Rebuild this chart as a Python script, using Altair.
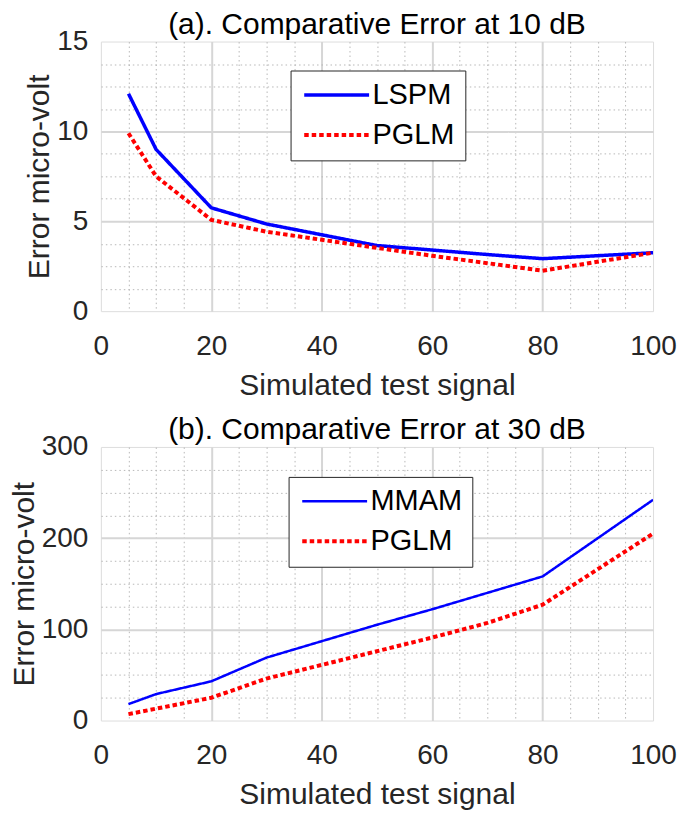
import altair as alt
import pandas as pd

FONT = "Liberation Sans"

# panel (a): error at 10 dB
signal_a = [5, 10, 20, 30, 40, 50, 60, 70, 80, 100]
lspm_a = [12.1, 9.0, 5.75, 4.85, 4.25, 3.65, 3.4, 3.15, 2.92, 3.25]
pglm_a = [9.9, 7.5, 5.08, 4.42, 3.97, 3.52, 3.08, 2.67, 2.25, 3.25]

# panel (b): error at 30 dB
signal_b = [5, 10, 20, 30, 40, 50, 60, 70, 80, 100]
mmam_b = [18, 29, 43, 69, 87, 105, 122, 140, 158, 242]
pglm_b = [7, 13, 25, 46, 61, 76, 91, 107, 127, 205]

x_ticks = list(range(0, 101, 5))
y_ticks_a = [i * 1.25 for i in range(13)]
y_ticks_b = list(range(0, 301, 25))

PLOT_W = 553


def long_table(x, series):
    rows = []
    for name, values in series.items():
        for xi, yi in zip(x, values):
            rows.append({"signal": xi, "error": yi, "method": name})
    return pd.DataFrame(rows)


def grid_axis(title, ticks, major, vmax, **kw):
    is_major = f"datum.value % {major} === 0"
    is_edge = f"datum.value === 0 || datum.value === {vmax}"
    return alt.Axis(
        title=title,
        values=ticks,
        labelExpr=f"{is_major} ? datum.label : ''",
        labelOverlap=False,
        labelFlush=False,
        labelFont=FONT,
        labelFontSize=28,
        labelColor="#262626",
        ticks=False,
        domain=False,
        grid=True,
        gridColor={"condition": {"test": is_major, "value": "#d6d6d6"}, "value": "#b8b8b8"},
        gridDash={"condition": {"test": is_major, "value": [1, 0]}, "value": [1.5, 3]},
        gridWidth={"condition": {"test": is_major, "value": 2}, "value": 1},
        gridOpacity={"condition": {"test": is_edge, "value": 0}, "value": 1},
        titleFont=FONT,
        titleFontSize=30,
        titleFontWeight="normal",
        titleColor="#262626",
        **kw,
    )


def panel(df, order, widths, title, y_ticks, y_major, y_max, height, legend_x, legend_y):
    legend = alt.Legend(
        title=None,
        orient="none",
        legendX=legend_x,
        legendY=legend_y,
        direction="vertical",
        symbolType="M-1,0H5",
        symbolSize=469,
        labelFont=FONT,
        labelFontSize=29,
        labelColor="black",
        labelOffset=43,
        padding=10,
        rowPadding=10,
        strokeColor="#262626",
        fillColor="white",
    )
    return alt.Chart(df).mark_line(clip=True, strokeCap="butt").encode(
        x=alt.X("signal:Q", scale=alt.Scale(domain=[0, 100], nice=False),
                axis=grid_axis("Simulated test signal", x_ticks, 20, 100,
                               labelPadding=21, titlePadding=10)),
        y=alt.Y("error:Q", scale=alt.Scale(domain=[0, y_max], nice=False),
                axis=grid_axis("Error micro-volt", y_ticks, y_major, y_max,
                               labelPadding=13, titlePadding=2)),
        color=alt.Color("method:N", scale=alt.Scale(domain=order, range=["#0000ff", "#ff0000"]),
                        legend=legend),
        strokeDash=alt.StrokeDash("method:N",
                                  scale=alt.Scale(domain=order, range=[[1, 0], [4.5, 3]]),
                                  legend=alt.Legend(title=None)),
        strokeWidth=alt.StrokeWidth("method:N", scale=alt.Scale(domain=order, range=widths),
                                    legend=alt.Legend(title=None)),
    ).properties(
        width=PLOT_W,
        height=height,
        title=alt.TitleParams(title, font=FONT, fontSize=30, fontWeight="normal",
                              color="black", frame="group", offset=-12),
    )


df_a = long_table(signal_a, {"LSPM": lspm_a, "PGLM": pglm_a})
df_b = long_table(signal_b, {"MMAM": mmam_b, "PGLM": pglm_b})

top = panel(df_a, ["LSPM", "PGLM"], [3.5, 4], "(a). Comparative Error at 10 dB",
            y_ticks_a, 5, 15, 270, 190, 29)
bottom = panel(df_b, ["MMAM", "PGLM"], [2.5, 4], "(b). Comparative Error at 30 dB",
               y_ticks_b, 100, 300, 274, 188, 30)

chart = alt.vconcat(top, bottom, spacing=13).resolve_scale(
    color="independent", strokeDash="independent", strokeWidth="independent"
).properties(
    padding={"left": 0, "top": 0, "right": 0, "bottom": 0}
).configure_view(
    stroke="#262626", strokeWidth=2
).configure_legend(
    strokeWidth=2
).configure(font=FONT)

chart.save("out.html", embed_options={"renderer": "svg", "actions": False})
